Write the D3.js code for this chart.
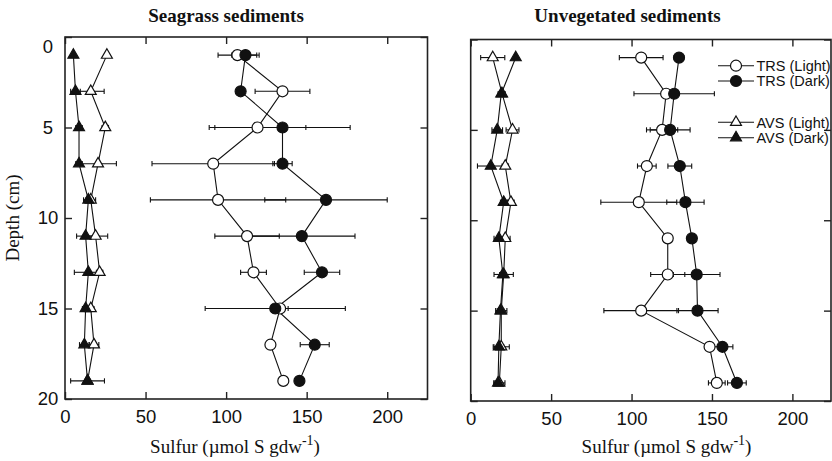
<!DOCTYPE html>
<html><head><meta charset="utf-8">
<script src="https://cdn.jsdelivr.net/npm/d3@7"></script>
<style>
html,body{margin:0;padding:0;background:#fff;}
svg{display:block;}
</style></head>
<body>
<svg id="chart" width="832" height="461"></svg>
<script>
// ---------------- DATA ----------------
const depths = [1, 3, 5, 7, 9, 11, 13, 15, 17, 19];
const xTickValues = [0, 50, 100, 150, 200];
const yTickValues = [0, 5, 10, 15, 20];
const panelTitles = ["Seagrass sediments", "Unvegetated sediments"];
const seriesNames = ["TRS (Light)", "TRS (Dark)", "AVS (Light)", "AVS (Dark)"];

// Seagrass sediments
const seaTrsLight    = [107, 135, 119.5, 92, 95, 113, 117, 133.5, 127.5, 135.5];
const seaTrsLightErr = [12, 17, 30, 38, 42, 20, 8, 5, 2, 1];
const seaTrsDark     = [112, 109, 135, 135, 162, 147, 159.5, 130.5, 155, 145.5];
const seaTrsDarkErr  = [8.5, 0, 42, 6, 38, 33, 11, 43.5, 9, 0];
const seaAvsLight    = [26, 16, 25, 20.5, 16, 19, 21.5, 16, 18, 14];
const seaAvsLightErr = [0, 8.3, 2, 11.4, 3, 7.5, 2, 2, 3, 1];
const seaAvsDark     = [5.2, 6.5, 8.7, 8.7, 14.5, 12.8, 14.5, 12.8, 12, 14];
const seaAvsDarkErr  = [0, 3, 2, 2, 3, 5.6, 8.7, 2, 3, 10.5];

// Unvegetated sediments
const unvTrsLight    = [106, 121.5, 119, 109.5, 104.5, 122.5, 122.5, 106, 148.5, 153];
const unvTrsLightErr = [13.6, 2, 9.7, 5.8, 23.6, 2, 10.6, 23.2, 2, 5.2];
const unvTrsDark     = [129.5, 126.5, 124, 130, 133.5, 137.5, 140.5, 141, 156.5, 165.5];
const unvTrsDarkErr  = [3, 25, 12.4, 7.4, 11.6, 1.5, 14.5, 12.8, 6.5, 5.8];
const unvAvsLight    = [13.7, 19.5, 26, 21.5, 25, 21.5, 20.5, 19, 19, 17.8];
const unvAvsLightErr = [7.5, 2, 4, 2, 2, 3, 6, 3.5, 5, 3.5];
const unvAvsDark     = [28, 19, 16.5, 12.5, 20.5, 17.5, 20, 18.5, 17.5, 17];
const unvAvsDarkErr  = [0, 2, 3.3, 8.3, 2, 3, 2, 2, 3, 2];

// ---------------- DRAW ----------------
const SANS = "'Liberation Sans', Arial, Helvetica, sans-serif";
const SERIF = "'Liberation Serif', 'Times New Roman', serif";
const INK = "#111";
const svg = d3.select("#chart");

const markerDefs = [
  {shape: "circle", fill: "#fff"},
  {shape: "circle", fill: INK},
  {shape: "triangle", fill: "#fff"},
  {shape: "triangle", fill: INK}
];

const panels = [
  {title: panelTitles[0], titleX: 226, labelX: 235, left: 65, right: 427.5, top: 37, bottom: 399, xmax: 225, yLabels: true,
   series: [[seaTrsLight, seaTrsLightErr], [seaTrsDark, seaTrsDarkErr], [seaAvsLight, seaAvsLightErr], [seaAvsDark, seaAvsDarkErr]]},
  {title: panelTitles[1], titleX: 627.5, labelX: 666.5, left: 470.7, right: 831, top: 39.5, bottom: 401, xmax: 224, yLabels: false, legend: true,
   series: [[unvTrsLight, unvTrsLightErr], [unvTrsDark, unvTrsDarkErr], [unvAvsLight, unvAvsLightErr], [unvAvsDark, unvAvsDarkErr]]}
];

const triPath = d3.symbol().type(d3.symbolTriangle).size(52)();

function drawMarker(g, def, cx, cy) {
  if (def.shape === "circle") {
    g.append("circle").attr("cx", cx).attr("cy", cy).attr("r", 5.5)
      .attr("fill", def.fill).attr("stroke", INK).attr("stroke-width", 1.2);
  } else {
    g.append("path").attr("d", triPath).attr("transform", `translate(${cx},${cy})`)
      .attr("fill", def.fill).attr("stroke", INK).attr("stroke-width", 1.2);
  }
}

panels.forEach(p => {
  const x = d3.scaleLinear().domain([0, p.xmax]).range([p.left, p.right]);
  const y = d3.scaleLinear().domain([0, 20]).range([p.top, p.bottom]);
  const g = svg.append("g");

  // frame
  g.append("rect").attr("x", p.left).attr("y", p.top)
    .attr("width", p.right - p.left).attr("height", p.bottom - p.top)
    .attr("fill", "none").attr("stroke", "#222").attr("stroke-width", 1.6);

  // axes (inward ticks)
  const axB = g.append("g").attr("transform", `translate(0,${p.bottom})`)
    .call(d3.axisBottom(x).tickValues(xTickValues).tickSize(-7).tickPadding(11).tickFormat(d3.format("d")));
  const axT = g.append("g").attr("transform", `translate(0,${p.top})`)
    .call(d3.axisTop(x).tickValues(xTickValues).tickSize(-7).tickFormat(""));
  const axL = g.append("g").attr("transform", `translate(${p.left},0)`)
    .call(d3.axisLeft(y).tickValues(yTickValues).tickSize(-7).tickPadding(17)
      .tickFormat(p.yLabels ? d3.format("d") : ""));
  const axR = g.append("g").attr("transform", `translate(${p.right},0)`)
    .call(d3.axisRight(y).tickValues(yTickValues).tickSize(-7).tickFormat(""));
  [axB, axT, axL, axR].forEach(a => {
    a.select(".domain").remove();
    a.selectAll(".tick line").attr("stroke", "#222").attr("stroke-width", 1.4);
    a.selectAll("text").attr("font-family", SANS).attr("font-size", 18.5).attr("fill", INK);
  });
  if (p.yLabels) {
    axL.selectAll("text").attr("text-anchor", "middle").attr("x", 48 - p.left);
    axL.selectAll(".tick").filter(d => d === 0).select("text").attr("dy", "0.85em");
  }

  // series
  p.series.forEach((s, si) => {
    const vals = s[0], errs = s[1];
    const pts = depths.map((d, i) => ({d, v: vals[i], e: errs[i]}));
    const sg = g.append("g");
    sg.append("path").datum(pts)
      .attr("d", d3.line().x(q => x(q.v)).y(q => y(q.d)))
      .attr("fill", "none").attr("stroke", INK).attr("stroke-width", 1.1);
    pts.filter(q => q.e > 0).forEach(q => {
      const eg = sg.append("g").attr("stroke", INK).attr("stroke-width", 1.1);
      eg.append("line").attr("x1", x(q.v - q.e)).attr("x2", x(q.v + q.e)).attr("y1", y(q.d)).attr("y2", y(q.d));
      [q.v - q.e, q.v + q.e].forEach(v => {
        eg.append("line").attr("x1", x(v)).attr("x2", x(v)).attr("y1", y(q.d) - 2.6).attr("y2", y(q.d) + 2.6);
      });
    });
  });
  // markers on top
  p.series.forEach((s, si) => {
    const mg = g.append("g");
    depths.forEach((d, i) => drawMarker(mg, markerDefs[si], x(s[0][i]), y(d)));
  });

  // title
  svg.append("text").attr("x", p.titleX).attr("y", 22).attr("text-anchor", "middle")
    .attr("font-family", SERIF).attr("font-weight", "bold").attr("font-size", 19).attr("fill", INK)
    .text(p.title);

  // x label
  const xl = svg.append("text").attr("x", p.labelX).attr("y", 453).attr("text-anchor", "middle")
    .attr("font-family", SERIF).attr("font-size", 19).attr("fill", INK);
  xl.append("tspan").text("Sulfur (\u00B5mol S gdw");
  xl.append("tspan").attr("dy", -8).attr("font-size", 14).text("-1");
  xl.append("tspan").attr("dy", 8).text(")");

  // legend
  if (p.legend) {
    const rows = [65.7, 81, 122.3, 137.7];
    seriesNames.forEach((name, i) => {
      const lg = svg.append("g");
      lg.append("line").attr("x1", 718).attr("x2", 754).attr("y1", rows[i]).attr("y2", rows[i])
        .attr("stroke", INK).attr("stroke-width", 1.1);
      drawMarker(lg, markerDefs[i], 736, rows[i]);
      lg.append("text").attr("x", 756.5).attr("y", rows[i]).attr("dy", "0.36em")
        .attr("font-family", SANS).attr("font-size", 14.5).attr("fill", INK).text(name);
    });
  }
});

// y-axis label
svg.append("text").attr("transform", "translate(19,218) rotate(-90)").attr("text-anchor", "middle")
  .attr("font-family", SERIF).attr("font-size", 19).attr("fill", INK).text("Depth (cm)");
</script>
</body></html>
